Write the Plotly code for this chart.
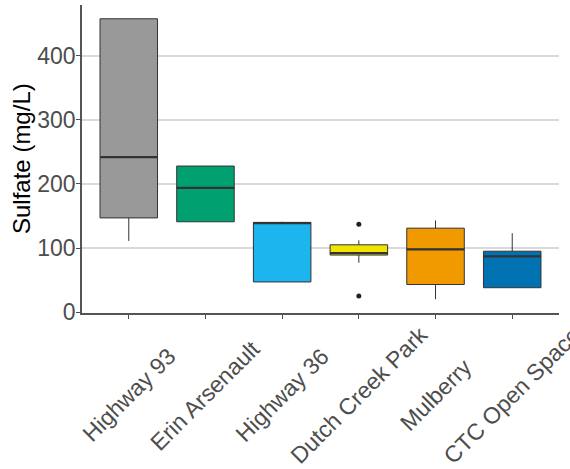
import plotly.graph_objects as go

# Sulfate concentrations by sampling site (box statistics, mg/L)
sites = ["Highway 93", "Erin Arsenault", "Highway 36", "Dutch Creek Park",
         "Mulberry", "CTC Open Space"]
lower_fence = [111, 141, 47, 77, 20, 38]
q1 = [147, 141, 47, 89, 43, 38]
median = [242, 194, 139, 92, 98, 87]
q3 = [458, 228, 140, 105, 131, 95]
upper_fence = [458, 228, 141, 112, 143, 123]
outlier_site = ["Dutch Creek Park", "Dutch Creek Park"]
outlier_value = [137, 25]
colors = ["#999999", "#00A070", "#1DB5ED", "#F0E400", "#F09A00", "#0072B2"]

box_width = 0.75
pos = list(range(len(sites)))
FONT = "Liberation Sans, Arial, sans-serif"

fig = go.Figure()
for i, name in enumerate(sites):
    fig.add_trace(go.Box(
        x=[pos[i]], q1=[q1[i]], median=[median[i]], q3=[q3[i]],
        lowerfence=[lower_fence[i]], upperfence=[upper_fence[i]],
        width=box_width, whiskerwidth=0, fillcolor=colors[i],
        line=dict(color="#333333", width=1), boxpoints=False,
        showlegend=False, hoverinfo="skip",
    ))
    # heavier median bar
    fig.add_trace(go.Scatter(
        x=[pos[i] - box_width / 2, pos[i] + box_width / 2],
        y=[median[i], median[i]], mode="lines",
        line=dict(color="#333333", width=2.2), showlegend=False,
        hoverinfo="skip",
    ))

fig.add_trace(go.Scatter(
    x=[sites.index(s) for s in outlier_site], y=outlier_value, mode="markers",
    marker=dict(color="#222222", size=5), showlegend=False, hoverinfo="skip",
))

# rotated site labels centred under each tick
for i, name in enumerate(sites):
    fig.add_annotation(
        x=pos[i], y=0, xref="x", yref="paper", text=name, showarrow=False,
        textangle=-45, xanchor="center", yanchor="middle", yshift=-82,
        font=dict(family=FONT, size=23, color="#4D4D4D"),
    )

fig.add_annotation(
    x=0, y=0.5, xref="paper", yref="paper", text="Sulfate (mg/L)",
    showarrow=False, textangle=-90, xanchor="center", yanchor="middle",
    xshift=-61,
    font=dict(family=FONT, size=24, color="#000000"),
)

fig.update_layout(
    width=570, height=469,
    margin=dict(l=82, r=11, t=5, b=156),
    paper_bgcolor="white", plot_bgcolor="white",
    boxmode="overlay",
    xaxis=dict(
        range=[-0.61, 5.61], tickvals=pos, showticklabels=False,
        ticks="outside", ticklen=4, tickcolor="#4D4D4D", tickwidth=1,
        showgrid=False, zeroline=False, showline=True,
        linecolor="#555555", linewidth=1.6,
    ),
    yaxis=dict(
        range=[-1.5, 479.5], tickvals=[0, 100, 200, 300, 400],
        ticks="outside", ticklen=4, tickcolor="#4D4D4D", tickwidth=1,
        ticklabelstandoff=-4,
        tickfont=dict(family=FONT, size=23, color="#4D4D4D"),
        showgrid=True, gridcolor="#D9D9D9", gridwidth=1.5,
        zeroline=False, showline=True, linecolor="#555555", linewidth=1.6,
    ),
)

fig.write_html("out.html")
